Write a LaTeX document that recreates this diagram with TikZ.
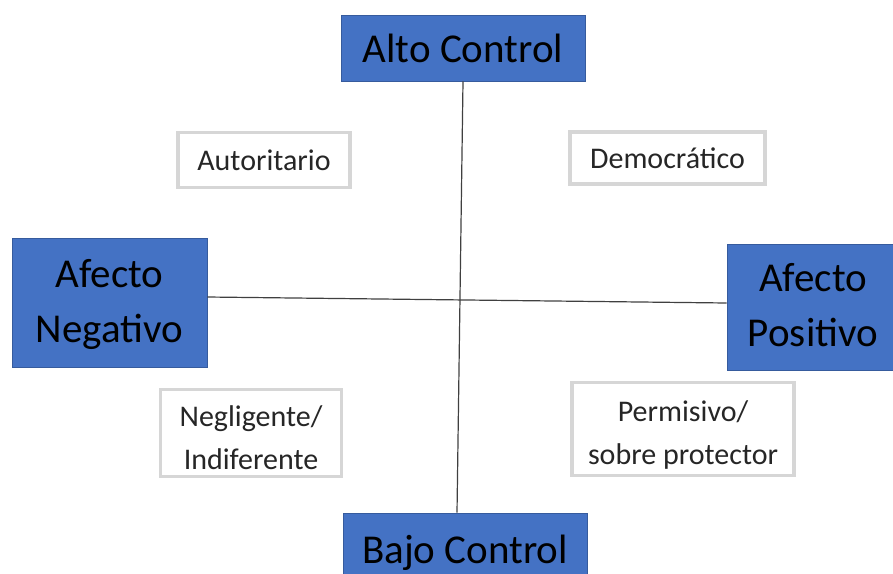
\documentclass[tikz,border=0pt]{standalone}
\usepackage{fontspec}
\setmainfont{Carlito}
\definecolor{boxblue}{HTML}{4472C4}
\definecolor{frame}{HTML}{D6D6D6}
\newcommand\twoline[2]{\raisebox{-#1}[\height][\depth]{\begin{tabular}{@{}c@{}}#2\end{tabular}}}
\tikzset{
  bluebox/.style={fill=boxblue, draw=boxblue!80!black, line width=0.6pt, align=center, inner sep=0pt,
    font=\fontsize{41}{55}\selectfont, text=black},
  whitebox/.style={fill=white, draw=frame, line width=3.5pt, align=center, inner sep=0pt,
    font=\fontsize{30}{43}\selectfont, text=black!85},
  axis/.style={draw=black!75, line width=1.2pt}
}
\begin{document}
\begin{tikzpicture}[x=1pt,y=-1pt]
\useasboundingbox (0,0) rectangle (893,573);
\node[bluebox, minimum width=244pt, minimum height=66pt] (alto) at (463,48) {Alto Control};
\node[bluebox, minimum width=244pt, minimum height=80pt] (bajo) at (465,553) {Bajo Control};
\node[bluebox, minimum width=195pt, minimum height=129pt] (neg) at (109.5,302.5) {\twoline{1pt}{Afecto\\Negativo}};
\node[bluebox, minimum width=172pt, minimum height=126pt] (pos) at (813,307) {\twoline{1pt}{Afecto\\Positivo}};
\node[whitebox, minimum width=172pt, minimum height=55pt] (aut) at (264,160) {Autoritario};
\node[whitebox, minimum width=195pt, minimum height=52pt] (dem) at (667.5,158) {Democrático};
\node[whitebox, minimum width=181pt, minimum height=87pt] (negl) at (251,433) {\twoline{6pt}{Negligente/\\Indiferente}};
\node[whitebox, minimum width=222pt, minimum height=93pt] (perm) at (683,429) {\twoline{5pt}{Permisivo/\\sobre protector}};
\draw[axis] (alto.south) -- ([xshift=-8pt]bajo.north);
\draw[axis] ([yshift=5.5pt]neg.east) -- ([yshift=4pt]pos.west);
\end{tikzpicture}
\end{document}
